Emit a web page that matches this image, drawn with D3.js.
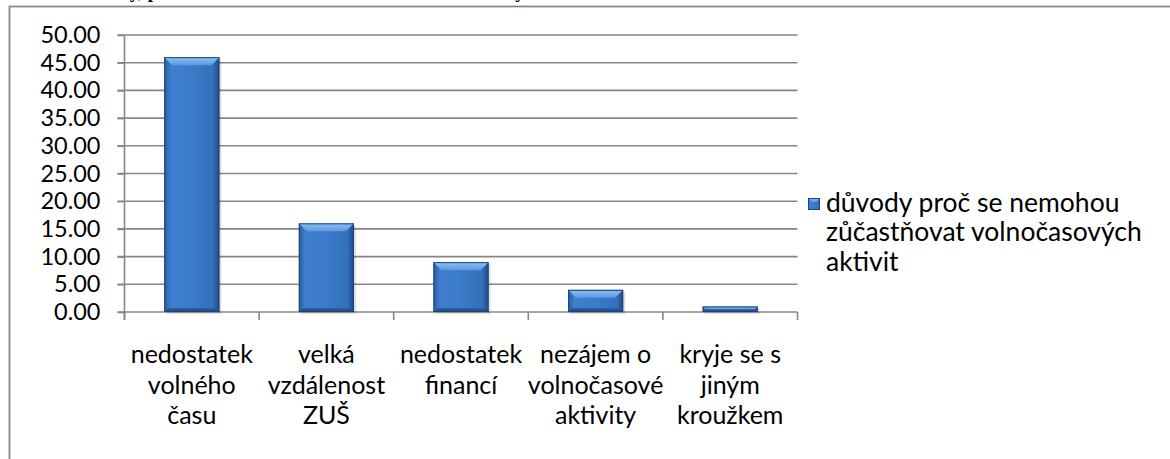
<!DOCTYPE html>
<html>
<head>
<meta charset="utf-8">
<script src="https://cdn.jsdelivr.net/npm/d3@7"></script>
<style>
  body { margin: 0; background: #fff; }
  svg { display: block; }
  text { font-family: Lato, "Open Sans", sans-serif; fill: #000; }
</style>
</head>
<body>
<svg id="chart" width="1170" height="459"></svg>
<script>
// data
var categories = ["nedostatek volného času", "velká vzdálenost ZUŠ", "nedostatek financí",
                  "nezájem o volnočasové aktivity", "kryje se s jiným kroužkem"];
var categoryLines = [["nedostatek", "volného", "času"], ["velká", "vzdálenost", "ZUŠ"],
                     ["nedostatek", "financí"], ["nezájem o", "volnočasové", "aktivity"],
                     ["kryje se s", "jiným", "kroužkem"]];
var values = [46, 16, 9, 4, 1];
var yTicks = [0, 5, 10, 15, 20, 25, 30, 35, 40, 45, 50];
var seriesName = ["důvody proč se nemohou", "zůčastňovat volnočasových", "aktivit"];
var titleText = "Graf č. 9 Důvody, proč se žáci nemohou zúčastňovat volnočasových aktivit";

var svg = d3.select("#chart");
var plotLeft = 124.5, plotRight = 797.5, plotTop = 35, plotBottom = 312;
var grid = "#878787";

var x = d3.scaleBand().domain(categories).range([plotLeft, plotRight]).paddingInner(0.59).paddingOuter(0.295);
var y = d3.scaleLinear().domain([0, 50]).range([plotBottom, plotTop]);

// title of the page, mostly above the picture
svg.append("text")
  .attr("x", 0).attr("y", -2)
  .style("font-family", "'Liberation Serif', serif")
  .style("font-size", "19px").style("font-weight", "bold")
  .attr("fill", "#444")
  .text(titleText);

// outer frame, runs off the right and bottom of the picture
svg.append("rect")
  .attr("x", 9.5).attr("y", 6.5).attr("width", 1200).attr("height", 500)
  .attr("fill", "#fff").attr("stroke", grid).attr("stroke-width", 1.8);

var defs = svg.append("defs");
var g1 = defs.append("linearGradient").attr("id", "barBody").attr("x1", 0).attr("x2", 1).attr("y1", 0).attr("y2", 0);
g1.append("stop").attr("offset", "0%").attr("stop-color", "#2a5c9e");
g1.append("stop").attr("offset", "12%").attr("stop-color", "#3f7fcf");
g1.append("stop").attr("offset", "45%").attr("stop-color", "#3d7cca");
g1.append("stop").attr("offset", "88%").attr("stop-color", "#3470bb");
g1.append("stop").attr("offset", "100%").attr("stop-color", "#1f4a85");
var g2 = defs.append("linearGradient").attr("id", "barTop").attr("x1", 0).attr("x2", 0).attr("y1", 0).attr("y2", 1);
g2.append("stop").attr("offset", "0%").attr("stop-color", "#8fc0f5");
g2.append("stop").attr("offset", "100%").attr("stop-color", "#5b98e2");
var g3 = defs.append("linearGradient").attr("id", "barBot").attr("x1", 0).attr("x2", 0).attr("y1", 0).attr("y2", 1);
g3.append("stop").attr("offset", "0%").attr("stop-color", "#2f64a8");
g3.append("stop").attr("offset", "100%").attr("stop-color", "#1c4278");

// gridlines
svg.append("g").selectAll("line").data(yTicks.slice(1)).join("line")
  .attr("x1", plotLeft - 7).attr("x2", plotRight)
  .attr("y1", function(d) { return y(d); }).attr("y2", function(d) { return y(d); })
  .attr("stroke", grid).attr("stroke-width", 1.6);

// axes
var yAxis = svg.append("g").attr("transform", "translate(" + plotLeft + ",0)")
  .call(d3.axisLeft(y).tickValues(yTicks).tickSize(7).tickPadding(17).tickFormat(d3.format(".2f")));
yAxis.select(".domain").attr("stroke", grid).attr("stroke-width", 1.6).attr("d", "M0," + plotTop + "V" + (plotBottom + 8));
yAxis.selectAll(".tick line").attr("stroke", grid).attr("stroke-width", 1.6);
yAxis.selectAll(".tick text").style("font-size", "23.5px").style("font-family", "Lato, sans-serif").attr("fill", "#000");

svg.append("line").attr("x1", plotLeft - 7).attr("x2", plotRight).attr("y1", plotBottom).attr("y2", plotBottom)
  .attr("stroke", grid).attr("stroke-width", 1.6);
var step = x.step();
svg.append("g").selectAll("line").data(d3.range(categories.length + 1)).join("line")
  .attr("x1", function(i) { return plotLeft + i * step; }).attr("x2", function(i) { return plotLeft + i * step; })
  .attr("y1", plotBottom).attr("y2", plotBottom + 8)
  .attr("stroke", grid).attr("stroke-width", 1.6);

// bars with bevel
var bars = svg.append("g").selectAll("g").data(values).join("g");
var bw = x.bandwidth();
bars.append("rect")
  .attr("x", function(d, i) { return x(categories[i]) + 2; })
  .attr("y", function(d) { return y(d) + 2; })
  .attr("width", bw).attr("height", function(d) { return plotBottom - y(d); })
  .attr("fill", "#000").attr("opacity", 0.12);
bars.append("rect")
  .attr("x", function(d, i) { return x(categories[i]); })
  .attr("y", function(d) { return y(d); })
  .attr("width", bw).attr("height", function(d) { return plotBottom - y(d); })
  .attr("fill", "url(#barBody)");
bars.append("path")
  .attr("d", function(d, i) {
    var x0 = x(categories[i]), y0 = y(d), h = plotBottom - y0;
    var b = Math.min(8, h / 2);
    return "M" + x0 + "," + y0 + "H" + (x0 + bw) + "L" + (x0 + bw - b) + "," + (y0 + b) + "H" + (x0 + b) + "Z";
  })
  .attr("fill", "url(#barTop)");
bars.append("path")
  .attr("d", function(d, i) {
    var x0 = x(categories[i]), y0 = y(d), h = plotBottom - y0;
    var b = Math.min(4, h / 2);
    return "M" + x0 + "," + plotBottom + "H" + (x0 + bw) + "L" + (x0 + bw - b) + "," + (plotBottom - b) + "H" + (x0 + b) + "Z";
  })
  .attr("fill", "url(#barBot)");
bars.append("rect")
  .attr("x", function(d, i) { return x(categories[i]) + 0.5; })
  .attr("y", function(d) { return y(d) + 0.5; })
  .attr("width", bw - 1).attr("height", function(d) { return plotBottom - y(d) - 1; })
  .attr("fill", "none").attr("stroke", "#1d4477").attr("stroke-width", 1);

// category labels
var labels = svg.append("g").selectAll("text").data(categories).join("text")
  .attr("text-anchor", "middle")
  .style("font-size", "25px");
labels.each(function(c, i) {
  d3.select(this).selectAll("tspan").data(categoryLines[i]).join("tspan")
    .attr("x", x(c) + bw / 2)
    .attr("y", function(l, j) { return 363 + j * 30.5; })
    .text(function(l) { return l; });
});

// legend
var lg = svg.append("g");
lg.append("rect").attr("x", 808).attr("y", 198).attr("width", 12).attr("height", 12).attr("fill", "url(#barBody)");
lg.append("path").attr("d", "M808,198H820L816,202H812Z").attr("fill", "url(#barTop)");
lg.append("rect").attr("x", 808.5).attr("y", 198.5).attr("width", 11).attr("height", 11).attr("fill", "none").attr("stroke", "#1d4477").attr("stroke-width", 1);
lg.append("text").style("font-size", "26.5px").selectAll("tspan").data(seriesName).join("tspan")
  .attr("x", 826).attr("y", function(l, j) { return 212 + j * 29.3; })
  .text(function(l) { return l; });
</script>
</body>
</html>
